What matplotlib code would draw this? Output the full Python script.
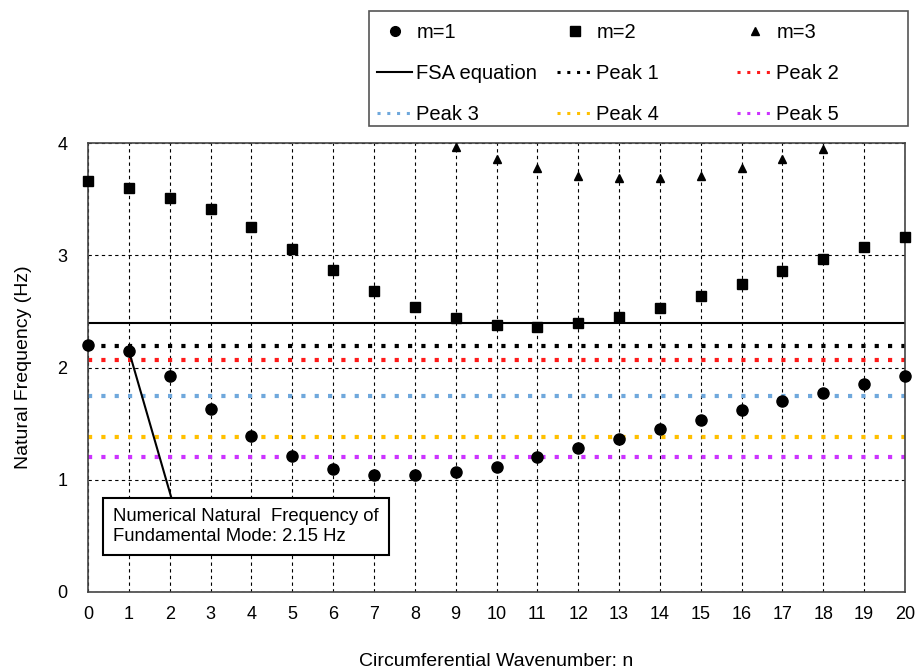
import matplotlib
matplotlib.use("Agg")
import matplotlib.pyplot as plt
from matplotlib.patches import Rectangle
from matplotlib.lines import Line2D

plt.rcParams['font.family'] = ['Liberation Sans', 'DejaVu Sans']

n = list(range(0, 21))
m1 = [2.20, 2.15, 1.92, 1.63, 1.39, 1.21, 1.10, 1.04, 1.04, 1.07, 1.11,
      1.20, 1.28, 1.36, 1.45, 1.53, 1.62, 1.70, 1.77, 1.85, 1.92]
m2 = [3.66, 3.60, 3.51, 3.41, 3.25, 3.06, 2.87, 2.68, 2.54, 2.44, 2.38,
      2.36, 2.40, 2.45, 2.53, 2.64, 2.74, 2.86, 2.97, 3.07, 3.16]
n3 = [9, 10, 11, 12, 13, 14, 15, 16, 17, 18]
m3 = [3.96, 3.86, 3.78, 3.71, 3.69, 3.69, 3.71, 3.78, 3.86, 3.95]

fsa = 2.40
peak_names = ['Peak 1', 'Peak 2', 'Peak 3', 'Peak 4', 'Peak 5']
peak_vals = [2.19, 2.07, 1.75, 1.38, 1.20]
peak_colors = ['#000000', '#ff1a1a', '#6fa8dc', '#ffc000', '#cc33ff']

W, H = 923, 670
fig = plt.figure(figsize=(W / 100, H / 100), dpi=100)
ax = fig.add_axes([88 / W, 1 - 592 / H, (905 - 88) / W, (592 - 143) / H])

ax.set_xlim(0, 20)
ax.set_ylim(0, 4)
ax.set_xticks(n)
ax.set_yticks([0, 1, 2, 3, 4])
ax.grid(True, color='black', linestyle=(0, (3, 3)), linewidth=0.8)
ax.set_axisbelow(True)
for s in ax.spines.values():
    s.set_color('#444444')
    s.set_linewidth(1.2)
ax.tick_params(axis='x', length=0, labelsize=13, pad=10)
ax.tick_params(axis='y', length=0, labelsize=13, pad=15)

fsa_line = ax.axhline(fsa, color='black', linewidth=1.5, zorder=2)
for v, c in zip(peak_vals, peak_colors):
    ax.axhline(v, color=c, linewidth=3, linestyle=(0, (1, 2.2)), zorder=2)

h1, = ax.plot(n, m1, 'o', color='black', markersize=8, clip_on=False, zorder=4)
h2, = ax.plot(n, m2, 's', color='black', markersize=7.5, clip_on=False, zorder=4)
h3, = ax.plot(n3, m3, '^', color='black', markersize=6, clip_on=False, zorder=4)

ax.annotate('Numerical Natural  Frequency of\nFundamental Mode: 2.15 Hz',
            xy=(1, 2.15), xycoords='data',
            xytext=(0.62, 0.745), textcoords='data',
            ha='left', va='top', fontsize=13.3, linespacing=1.2,
            bbox=dict(boxstyle='square,pad=0.55', fc='white', ec='black', lw=1.5),
            arrowprops=dict(arrowstyle='-', color='black', lw=1.5,
                            relpos=(0.23, 1.0), shrinkA=0, shrinkB=4),
            zorder=5)

ax.set_xlabel('Circumferential Wavenumber: n', fontsize=14, labelpad=22)
ax.set_ylabel('Natural Frequency (Hz)', fontsize=14, labelpad=18)

# legend proxies (finer dotted handles, as in the legend box)
pk = [Line2D([], [], color=c, linewidth=2.2, linestyle=(0, (1, 2.2)))
      for c in peak_colors]
mk1 = Line2D([], [], marker='o', color='black', linestyle='none', markersize=7)
mk2 = Line2D([], [], marker='s', color='black', linestyle='none', markersize=6.5)
mk3 = Line2D([], [], marker='^', color='black', linestyle='none', markersize=5.5)

columns = [
    ([mk1, fsa_line, pk[2]], ['m=1', 'FSA equation', 'Peak 3'], 377),
    ([mk2, pk[0], pk[3]], ['m=2', 'Peak 1', 'Peak 4'], 557),
    ([mk3, pk[1], pk[4]], ['m=3', 'Peak 2', 'Peak 5'], 737),
]
for hs, ls, x0 in columns:
    fig.legend(hs, ls, loc='upper left',
               bbox_to_anchor=(x0 / W, 1 - 23 / H),
               fontsize=14.5, frameon=False, borderpad=0, borderaxespad=0,
               handlelength=1.75, handletextpad=0.2, labelspacing=1.1)
fig.add_artist(Rectangle((369 / W, 1 - 126 / H), (908 - 369) / W, (126 - 11) / H,
                         transform=fig.transFigure, fill=False,
                         edgecolor='#555555', linewidth=1.2))

fig.savefig('out.png', dpi=100)
